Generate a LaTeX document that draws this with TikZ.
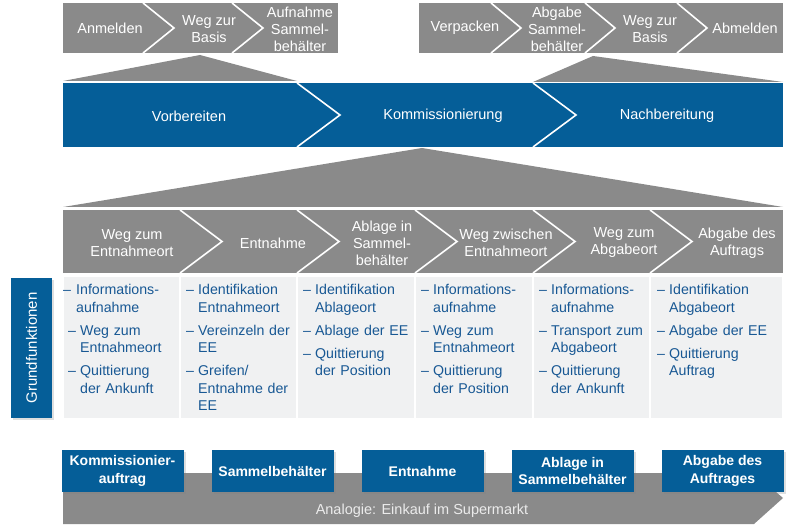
\documentclass[tikz,border=0pt]{standalone}
\usepackage{fontspec}
\setmainfont{Liberation Sans}
\usetikzlibrary{shadows}

\definecolor{kblue}{RGB}{5,94,152}
\definecolor{kgray}{RGB}{138,138,138}
\definecolor{klight}{RGB}{240,241,242}
\definecolor{ktext}{RGB}{24,88,148}

% Aufzaehlungspunkte in den Spalten
\newcommand{\li}[1]{\par\hangindent=12pt\hangafter=1\noindent\makebox[12pt][l]{–}#1\par\vspace{5.5pt}}
\newcommand{\lfirst}[1]{\par\hangindent=8pt\hangafter=1\noindent\hspace{-5pt}\makebox[12pt][l]{–}\hspace{1pt}#1\par\vspace{5.5pt}}

\begin{document}
\begin{tikzpicture}[x=1pt,y=-1pt,
    chev/.style={text=white,align=center,inner sep=0pt,font=\fontsize{14.5}{17}\selectfont},
    divline/.style={white,line width=1.6pt},
    funclist/.style={anchor=north west,inner sep=0pt,text width=112pt,align=left,text=ktext,font=\fontsize{14.2}{17.5}\selectfont},
    objbox/.style={fill=kblue,text=white,minimum width=122pt,minimum height=42pt,inner sep=2pt,align=center,
        font=\bfseries\fontsize{14}{17.5}\selectfont,drop shadow={opacity=0.25,shadow xshift=2pt,shadow yshift=-2pt}}]
    \useasboundingbox (0,0) rectangle (800,526);

    % Vorbereiten im Detail
    \fill[kgray] (63,3) rectangle (338,53);
    \foreach \a in {143,232} \draw[divline] (\a,3) -- (\a+31,28) -- (\a,53);
    \node[chev] (anm) at (110,28) {Anmelden};
    \node[chev] (wegb) at (209,29) {Weg zur\\Basis};
    \node[chev] (aufn) at (300,29) {Aufnahme\\Sammel-\\behälter};

    % Nachbereitung im Detail
    \fill[kgray] (419,3) rectangle (783,53);
    \foreach \a in {491,585,677} \draw[divline] (\a,3) -- (\a+30,28) -- (\a,53);
    \node[chev] (verp) at (465,28) {Verpacken};
    \node[chev] (abg) at (557,29) {Abgabe\\Sammel-\\behälter};
    \node[chev] (wegb2) at (650,29) {Weg zur\\Basis};
    \node[chev] (abm) at (745,28) {Abmelden};

    \fill[kgray] (200,55) -- (297,81) -- (63,81) -- cycle;
    \fill[kgray] (593,56) -- (783,82) -- (533,82) -- cycle;

    % Hauptprozess
    \fill[kblue] (63,83) rectangle (783,147);
    \foreach \a in {297,533} \draw[divline] (\a,83) -- (\a+43,115) -- (\a,147);
    \node[chev] (vorb) at (189,116) {Vorbereiten};
    \node[chev] (komm) at (443,116) {Kommissionierung};
    \node[chev] (nach) at (667,116) {Nachbereitung};

    \fill[kgray] (422,148) -- (783,207) -- (63,207) -- cycle;

    % Kommissionierung im Detail
    \fill[kgray] (63,210) rectangle (783,273);
    \foreach \a in {180,297,415,533,650} \draw[divline] (\a,210) -- (\a+42,241.5) -- (\a,273);
    \node[chev] (s1) at (132,243) {Weg zum\\Entnahmeort};
    \node[chev] (s2) at (273,243) {Entnahme};
    \node[chev] (s3) at (382,243) {Ablage in\\Sammel-\\behälter};
    \node[chev] (s4) at (506,243) {Weg zwischen\\Entnahmeort};
    \node[chev] (s5) at (624,243) {Weg zum\\Abgabeort};
    \node[chev] (s6) at (737,243) {Abgabe des\\Auftrags};

    \foreach \l/\r in {63/180,180/297,297/415,415/533,533/650,650/783}
        \fill[klight] (\l+1,277) rectangle (\r-1,418);

    \node[funclist] (f1) at (68,277) {\lfirst{Informations-\newline aufnahme}\li{Weg zum\newline Entnahmeort}\li{Quittierung\newline der Ankunft}};
    \node[funclist] (f2) at (186,277) {\li{Identifikation\newline Entnahmeort}\li{Vereinzeln der\newline EE}\li{Greifen/\newline Entnahme der\newline EE}};
    \node[funclist] (f3) at (303,277) {\li{Identifikation\newline Ablageort}\li{Ablage der EE}\li{Quittierung\newline der Position}};
    \node[funclist] (f4) at (421,277) {\li{Informations-\newline aufnahme}\li{Weg zum\newline Entnahmeort}\li{Quittierung\newline der Position}};
    \node[funclist] (f5) at (539,277) {\li{Informations-\newline aufnahme}\li{Transport zum\newline Abgabeort}\li{Quittierung\newline der Ankunft}};
    \node[funclist] (f6) at (657,277) {\li{Identifikation\newline Abgabeort}\li{Abgabe der EE}\li{Quittierung\newline Auftrag}};

    \node[fill=kblue,text=white,rotate=90,minimum width=140pt,minimum height=41pt,inner sep=0pt,
        font=\fontsize{15}{18}\selectfont,drop shadow={opacity=0.25,shadow xshift=2pt,shadow yshift=-2pt}]
        (grund) at (31.5,348) {Grundfunktionen};

    % Analogie
    \fill[kgray] (63,473) -- (754,473) -- (783,498) -- (754,524) -- (63,524) -- cycle;
    \node[text=black!8,font=\fontsize{14.5}{17}\selectfont] (analog) at (422,511) {Analogie: Einkauf im Supermarkt};
    \node[objbox] (o1) at (122.5,471) {Kommissionier-\\auftrag};
    \node[objbox] (o2) at (272.5,471) {Sammelbehälter};
    \node[objbox] (o3) at (422.5,471) {Entnahme};
    \node[objbox] (o4) at (572.5,471) {Ablage in\\Sammelbehälter};
    \node[objbox] (o5) at (722.5,471) {Abgabe des\\Auftrages};
\end{tikzpicture}
\end{document}
